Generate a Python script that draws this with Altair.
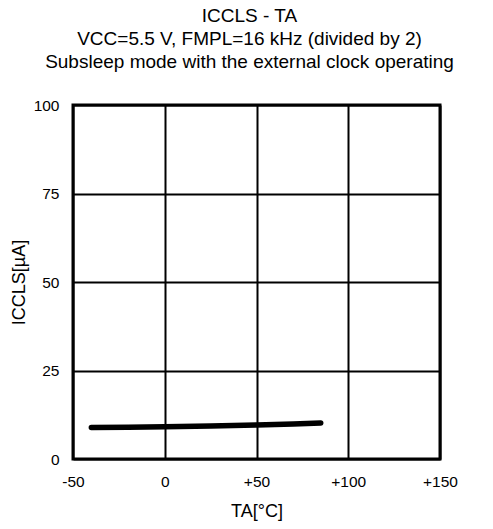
import altair as alt
import pandas as pd

temps = [-40, -20, 0, 25, 50, 70, 85]
iccls = [8.9, 9.0, 9.1, 9.3, 9.6, 9.9, 10.2]
x_ticks = [-50, 0, 50, 100, 150]
y_ticks = [0, 25, 50, 75, 100]

df = pd.DataFrame({"ta": temps, "i": iccls})

FONT = "Liberation Sans"

chart = alt.Chart(df).mark_line(
    color="black", strokeWidth=5.5, strokeCap="round", strokeJoin="round"
).encode(
    x=alt.X("ta:Q", scale=alt.Scale(domain=[-50, 150], nice=False, zero=False),
            axis=alt.Axis(values=x_ticks, title="TA[°C]",
                          labelExpr="datum.value > 0 ? '+' + datum.value : '' + datum.value")),
    y=alt.Y("i:Q", scale=alt.Scale(domain=[0, 100], nice=False),
            axis=alt.Axis(values=y_ticks, title="ICCLS[µA]")),
).properties(
    width=367, height=354,
    title=alt.Title(
        ["ICCLS - TA", "VCC=5.5 V, FMPL=16 kHz (divided by 2)",
         "Subsleep mode with the external clock operating"],
        fontSize=19, font=FONT, fontWeight="normal", color="black",
        lineHeight=23, offset=26, anchor="middle", dx=-7,
    ),
    autosize=alt.AutoSizeParams(type="none"),
    padding={"left": 65, "top": 97, "right": 45, "bottom": 62},
).configure_view(
    stroke="black", strokeWidth=3
).configure_axis(
    grid=True, gridColor="black", gridWidth=2, gridOpacity=1,
    ticks=False, domain=False,
    labelFont=FONT, labelFontSize=15.5, labelColor="black",
    titleFont=FONT, titleFontSize=18, titleFontWeight="normal", titleColor="black",
).configure_axisX(
    labelPadding=15, titlePadding=13, labelFlush=False,
).configure_axisY(
    labelPadding=14, titlePadding=5,
)

chart.save("out.html", embed_options={"renderer": "svg", "actions": False})
